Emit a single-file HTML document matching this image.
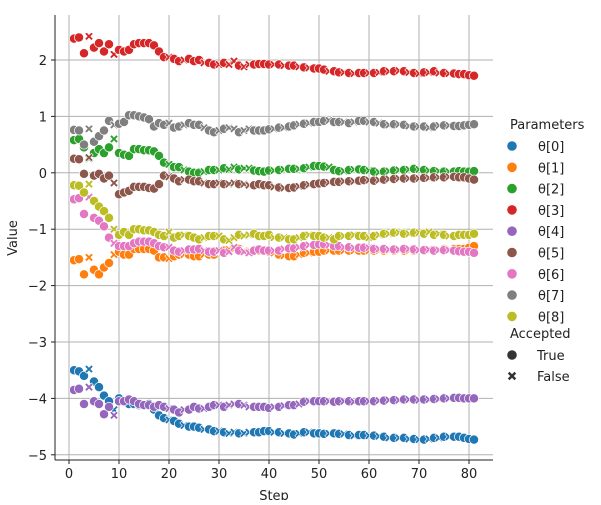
<!DOCTYPE html>
<html><head><meta charset="utf-8"><style>
body{margin:0;background:#fff;font-family:"Liberation Sans","DejaVu Sans",sans-serif;}
svg text{font-family:"DejaVu Sans","Liberation Sans",sans-serif;fill:#222;}
</style></head><body>
<svg id="chart" width="601" height="500" xmlns="http://www.w3.org/2000/svg">
<g id="grid"></g>
<g id="marks"></g>
<g id="axes"></g>
<g id="legend"></g>
</svg>
<script>
const seriesNames=["θ[0]","θ[1]","θ[2]","θ[3]","θ[4]","θ[5]","θ[6]","θ[7]","θ[8]"];
const colors=["#1f77b4","#ff7f0e","#2ca02c","#d62728","#9467bd","#8c564b","#e377c2","#7f7f7f","#bcbd22"];
const xTicks=[0,10,20,30,40,50,60,70,80];
const yTicks=[2,1,0,-1,-2,-3,-4,-5];
const rejectedSteps=[4,9,20,23,27,30,32,33,35,36,41,43,46,48,52,55,57,60,62,64,66,68,70,72,74,76];
const theta0=[-3.5,-3.52,-3.6,-3.48,-3.7,-3.8,-3.95,-4.05,-4.2,-4.0,-4.05,-4.1,-4.1,-4.12,-4.12,-4.1,-4.2,-4.3,-4.35,-4.38,-4.4,-4.45,-4.48,-4.5,-4.5,-4.52,-4.55,-4.55,-4.58,-4.58,-4.6,-4.62,-4.6,-4.62,-4.62,-4.6,-4.6,-4.6,-4.58,-4.58,-4.6,-4.6,-4.62,-4.62,-4.64,-4.62,-4.6,-4.6,-4.62,-4.62,-4.63,-4.62,-4.62,-4.63,-4.63,-4.65,-4.66,-4.65,-4.65,-4.66,-4.66,-4.67,-4.68,-4.7,-4.7,-4.7,-4.7,-4.72,-4.72,-4.73,-4.73,-4.72,-4.7,-4.7,-4.68,-4.68,-4.68,-4.68,-4.7,-4.72,-4.73];
const theta1=[-1.55,-1.53,-1.8,-1.5,-1.72,-1.8,-1.68,-1.6,-1.45,-1.4,-1.45,-1.45,-1.35,-1.35,-1.35,-1.35,-1.38,-1.5,-1.5,-1.52,-1.48,-1.45,-1.45,-1.45,-1.48,-1.48,-1.45,-1.45,-1.45,-1.4,-1.38,-1.36,-1.35,-1.35,-1.38,-1.38,-1.38,-1.38,-1.38,-1.4,-1.42,-1.45,-1.47,-1.48,-1.48,-1.45,-1.42,-1.42,-1.4,-1.4,-1.38,-1.38,-1.38,-1.38,-1.38,-1.38,-1.38,-1.38,-1.38,-1.38,-1.38,-1.38,-1.38,-1.38,-1.38,-1.38,-1.38,-1.38,-1.38,-1.38,-1.38,-1.38,-1.38,-1.38,-1.35,-1.35,-1.35,-1.35,-1.35,-1.33,-1.3];
const theta2=[0.58,0.6,0.45,0.25,0.35,0.42,0.35,0.45,0.6,0.35,0.32,0.3,0.42,0.42,0.4,0.4,0.38,0.3,0.18,0.15,0.1,0.1,0.05,0.02,0.0,0.0,0.02,0.05,0.05,0.05,0.08,0.06,0.1,0.06,0.08,0.08,0.04,0.03,0.02,0.04,0.04,0.05,0.06,0.07,0.07,0.07,0.08,0.1,0.12,0.12,0.11,0.1,0.05,0.03,0.03,0.05,0.06,0.06,0.05,0.04,0.02,0.01,0.02,0.03,0.04,0.05,0.05,0.06,0.07,0.06,0.05,0.04,0.03,0.03,0.02,0.02,0.02,0.03,0.02,0.02,0.03];
const theta3=[2.38,2.4,2.12,2.42,2.22,2.3,2.15,2.28,2.1,2.18,2.15,2.18,2.28,2.3,2.3,2.3,2.26,2.15,2.05,2.05,2.02,1.98,2.0,2.02,1.98,2.0,1.95,1.95,1.92,1.92,1.95,1.92,1.98,1.9,1.88,1.92,1.92,1.93,1.93,1.92,1.92,1.92,1.9,1.9,1.9,1.88,1.87,1.86,1.85,1.85,1.83,1.8,1.8,1.78,1.78,1.77,1.76,1.77,1.77,1.77,1.77,1.78,1.8,1.8,1.8,1.81,1.8,1.78,1.77,1.76,1.78,1.78,1.8,1.77,1.77,1.76,1.76,1.75,1.75,1.73,1.72];
const theta4=[-3.85,-3.83,-4.1,-3.8,-4.05,-4.1,-4.28,-4.15,-4.3,-4.05,-4.05,-4.02,-4.05,-4.1,-4.12,-4.12,-4.15,-4.12,-4.15,-4.18,-4.2,-4.25,-4.2,-4.2,-4.15,-4.18,-4.18,-4.15,-4.12,-4.12,-4.15,-4.12,-4.1,-4.1,-4.12,-4.15,-4.15,-4.15,-4.15,-4.17,-4.15,-4.15,-4.13,-4.12,-4.12,-4.1,-4.06,-4.05,-4.05,-4.05,-4.05,-4.05,-4.06,-4.05,-4.05,-4.05,-4.06,-4.05,-4.05,-4.05,-4.05,-4.04,-4.04,-4.03,-4.03,-4.03,-4.02,-4.02,-4.02,-4.03,-4.02,-4.02,-4.01,-4.01,-4.0,-4.0,-3.99,-3.99,-4.0,-4.0,-4.0];
const theta5=[0.25,0.24,-0.02,0.27,-0.05,-0.02,-0.1,-0.05,-0.18,-0.38,-0.35,-0.32,-0.25,-0.25,-0.25,-0.27,-0.28,-0.2,-0.05,-0.07,-0.1,-0.15,-0.12,-0.12,-0.15,-0.15,-0.18,-0.2,-0.2,-0.18,-0.2,-0.2,-0.18,-0.2,-0.2,-0.22,-0.22,-0.2,-0.22,-0.22,-0.25,-0.26,-0.27,-0.27,-0.26,-0.24,-0.22,-0.21,-0.2,-0.19,-0.18,-0.17,-0.16,-0.16,-0.15,-0.15,-0.15,-0.14,-0.13,-0.13,-0.14,-0.13,-0.12,-0.11,-0.11,-0.1,-0.1,-0.1,-0.1,-0.1,-0.09,-0.09,-0.08,-0.08,-0.08,-0.07,-0.07,-0.08,-0.08,-0.1,-0.12];
const theta6=[-0.47,-0.45,-0.73,-0.43,-0.8,-0.85,-0.95,-1.15,-1.25,-1.3,-1.3,-1.3,-1.25,-1.22,-1.22,-1.22,-1.25,-1.3,-1.32,-1.32,-1.38,-1.4,-1.38,-1.36,-1.36,-1.35,-1.38,-1.4,-1.4,-1.38,-1.42,-1.4,-1.32,-1.38,-1.4,-1.42,-1.38,-1.36,-1.38,-1.38,-1.38,-1.38,-1.35,-1.34,-1.34,-1.32,-1.3,-1.28,-1.28,-1.27,-1.27,-1.28,-1.3,-1.3,-1.32,-1.32,-1.33,-1.33,-1.33,-1.33,-1.35,-1.35,-1.35,-1.36,-1.36,-1.36,-1.35,-1.35,-1.36,-1.37,-1.37,-1.36,-1.38,-1.37,-1.37,-1.37,-1.38,-1.39,-1.4,-1.4,-1.42];
const theta7=[0.76,0.75,0.5,0.78,0.55,0.65,0.75,0.92,0.85,0.87,0.9,1.02,1.02,1.0,0.98,0.95,0.82,0.88,0.85,0.88,0.8,0.82,0.85,0.88,0.85,0.85,0.8,0.75,0.72,0.75,0.78,0.8,0.78,0.72,0.75,0.78,0.75,0.75,0.75,0.77,0.78,0.8,0.8,0.82,0.84,0.86,0.87,0.88,0.9,0.9,0.92,0.93,0.9,0.9,0.9,0.88,0.9,0.92,0.92,0.9,0.9,0.88,0.86,0.85,0.86,0.86,0.85,0.83,0.82,0.82,0.82,0.8,0.82,0.84,0.84,0.84,0.83,0.83,0.84,0.85,0.86];
const theta8=[-0.22,-0.23,-0.35,-0.2,-0.5,-0.6,-0.68,-0.8,-1.0,-1.1,-1.05,-1.1,-1.0,-1.0,-1.02,-1.02,-1.05,-1.1,-1.12,-1.05,-1.15,-1.12,-1.1,-1.12,-1.15,-1.18,-1.15,-1.12,-1.12,-1.12,-1.18,-1.2,-1.15,-1.1,-1.12,-1.1,-1.08,-1.12,-1.12,-1.1,-1.15,-1.15,-1.15,-1.18,-1.18,-1.15,-1.12,-1.1,-1.12,-1.12,-1.15,-1.15,-1.18,-1.12,-1.12,-1.12,-1.1,-1.12,-1.12,-1.15,-1.12,-1.1,-1.08,-1.08,-1.06,-1.06,-1.08,-1.08,-1.06,-1.06,-1.08,-1.05,-1.1,-1.08,-1.1,-1.12,-1.12,-1.1,-1.1,-1.1,-1.08];
const series=[theta0,theta1,theta2,theta3,theta4,theta5,theta6,theta7,theta8];

const NS="http://www.w3.org/2000/svg";
const X0=55,X1=493,Y0=15,Y1=460;
function xs(v){return 69+(v-0)*5;}
function ys(v){return 172.8-v*56.4;}
function mk(tag,parent){const e=document.createElementNS(NS,tag);parent.appendChild(e);return e;}
function xPath(cx,cy,s){const a=s*0.35,b=s;return `M${cx-b},${cy-b+a*1.2}L${cx-b+a*1.2},${cy-b}L${cx},${cy-a*1.2}L${cx+b-a*1.2},${cy-b}L${cx+b},${cy-b+a*1.2}L${cx+a*1.2},${cy}L${cx+b},${cy+b-a*1.2}L${cx+b-a*1.2},${cy+b}L${cx},${cy+a*1.2}L${cx-b+a*1.2},${cy+b}L${cx-b},${cy+b-a*1.2}L${cx-a*1.2},${cy}Z`;}

const grid=document.getElementById('grid');
xTicks.forEach(t=>{const l=mk('line',grid);l.setAttribute('x1',xs(t));l.setAttribute('x2',xs(t));l.setAttribute('y1',Y0);l.setAttribute('y2',Y1);l.setAttribute('stroke','#b0b0b0');l.setAttribute('stroke-width','1');

});
yTicks.forEach(t=>{const l=mk('line',grid);l.setAttribute('x1',X0);l.setAttribute('x2',X1);l.setAttribute('y1',ys(t));l.setAttribute('y2',ys(t));l.setAttribute('stroke','#b0b0b0');l.setAttribute('stroke-width','1');

});

const marks=document.getElementById('marks');
series.forEach((arr,si)=>{arr.forEach((v,i)=>{const step=i+1;const cx=xs(step),cy=ys(v);
 if(rejectedSteps.includes(step)){const p=mk('path',marks);p.setAttribute('d',xPath(cx,cy,4.2));p.setAttribute('fill',colors[si]);p.setAttribute('stroke','#fff');p.setAttribute('stroke-width','0.6');
  
  }
 else{const c=mk('circle',marks);c.setAttribute('cx',cx);c.setAttribute('cy',cy);c.setAttribute('r',4.6);c.setAttribute('fill',colors[si]);c.setAttribute('stroke','#fff');c.setAttribute('stroke-width','0.7');
  
  }
});});

const axes=document.getElementById('axes');
let sp=mk('line',axes);sp.setAttribute('x1',X0);sp.setAttribute('x2',X0);sp.setAttribute('y1',Y0);sp.setAttribute('y2',Y1);sp.setAttribute('stroke','#222');sp.setAttribute('stroke-width','1');


sp=mk('line',axes);sp.setAttribute('x1',X0);sp.setAttribute('x2',X1);sp.setAttribute('y1',Y1);sp.setAttribute('y2',Y1);sp.setAttribute('stroke','#222');sp.setAttribute('stroke-width','1');


xTicks.forEach(t=>{const l=mk('line',axes);l.setAttribute('x1',xs(t));l.setAttribute('x2',xs(t));l.setAttribute('y1',Y1);l.setAttribute('y2',Y1+4);l.setAttribute('stroke','#222');


const tx=mk('text',axes);tx.setAttribute('x',xs(t));tx.setAttribute('y',Y1+18);tx.setAttribute('text-anchor','middle');tx.setAttribute('font-size','13');tx.textContent=t;

});
yTicks.forEach(t=>{const l=mk('line',axes);l.setAttribute('x1',X0-4);l.setAttribute('x2',X0);l.setAttribute('y1',ys(t));l.setAttribute('y2',ys(t));l.setAttribute('stroke','#222');


const tx=mk('text',axes);tx.setAttribute('x',X0-8);tx.setAttribute('y',ys(t)+5);tx.setAttribute('text-anchor','end');tx.setAttribute('font-size','13');tx.textContent=(t<0?'−'+(-t):t);

});
let tt=mk('text',axes);tt.setAttribute('x',274);tt.setAttribute('y',500);tt.setAttribute('text-anchor','middle');tt.setAttribute('font-size','13');tt.textContent='Step';


tt=mk('text',axes);tt.setAttribute('transform','translate(17,238) rotate(-90)');tt.setAttribute('text-anchor','middle');tt.setAttribute('font-size','13');tt.textContent='Value';



const lg=document.getElementById('legend');
tt=mk('text',lg);tt.setAttribute('x',510);tt.setAttribute('y',129);tt.setAttribute('font-size','13');tt.textContent='Parameters';


seriesNames.forEach((n,i)=>{const y=146+i*21.3;const c=mk('circle',lg);c.setAttribute('cx',512);c.setAttribute('cy',y);c.setAttribute('r',4.8);c.setAttribute('fill',colors[i]);


const t=mk('text',lg);t.setAttribute('x',538);t.setAttribute('y',y+5);t.setAttribute('font-size','13');t.textContent=n;

});
tt=mk('text',lg);tt.setAttribute('x',510);tt.setAttribute('y',338);tt.setAttribute('font-size','13');tt.textContent='Accepted';


let c=mk('circle',lg);c.setAttribute('cx',512);c.setAttribute('cy',355);c.setAttribute('r',4.8);c.setAttribute('fill','#333');


tt=mk('text',lg);tt.setAttribute('x',537);tt.setAttribute('y',360);tt.setAttribute('font-size','13');tt.textContent='True';


let p=mk('path',lg);p.setAttribute('d',xPath(512,376,4.2));p.setAttribute('fill','#333');


tt=mk('text',lg);tt.setAttribute('x',537);tt.setAttribute('y',381);tt.setAttribute('font-size','13');tt.textContent='False';


</script>
</body></html>
